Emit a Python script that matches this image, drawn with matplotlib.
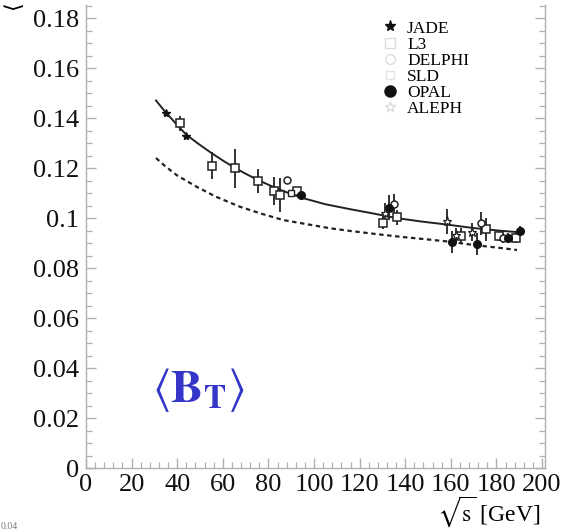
import matplotlib
matplotlib.use("Agg")
import matplotlib.pyplot as plt
from matplotlib.ticker import MultipleLocator
from matplotlib.lines import Line2D

plt.rcParams["font.family"] = ["Liberation Serif", "DejaVu Serif"]
plt.rcParams["mathtext.fontset"] = "stix"

# theory curves
fit_x = [30.7, 35, 40, 44, 50, 55, 60, 65, 70, 75, 80, 85, 90, 95, 105, 116,
         126, 136, 147, 158, 168, 176, 183, 190]
fit_y = [0.147, 0.1422, 0.1372, 0.1333, 0.1292, 0.1260, 0.1230, 0.1202, 0.1177,
         0.1154, 0.1133, 0.1113, 0.1096, 0.1080, 0.1055, 0.1035, 0.1018, 0.1000,
         0.0986, 0.0974, 0.0962, 0.0954, 0.0948, 0.0943]
pert_x = [30.7, 35, 40, 48.5, 57, 67.5, 77, 86.4, 97, 107, 116, 127, 137.7,
          149, 159.6, 170, 180, 189]
pert_y = [0.124, 0.1205, 0.117, 0.1125, 0.1085, 0.1045, 0.1017, 0.0992, 0.0975,
          0.0959, 0.0948, 0.0936, 0.0925, 0.0915, 0.0905, 0.0892, 0.0882, 0.0872]

# experiments
jade_x = [35.0, 44.0]
jade_y = [0.142, 0.133]
jade_e = [0.001, 0.001]

l3_x = [41.4, 55.3, 65.4, 75.4, 82.3, 85.1, 92.4, 130.1, 136.2, 164.5, 175.4, 181.3, 188.5]
l3_y = [0.138, 0.121, 0.120, 0.1148, 0.1108, 0.1092, 0.1108, 0.0981, 0.1003, 0.0930, 0.0955, 0.0928, 0.0921]
l3_e = [0.003, 0.0055, 0.0078, 0.0048, 0.0057, 0.0069, 0.001, 0.0025, 0.003, 0.003, 0.0047, 0.002, 0.002]

delphi_x = [88.0, 135.2, 173.2, 183.0]
delphi_y = [0.1152, 0.1055, 0.0979, 0.0921]
delphi_e = [0.0, 0.004, 0.0047, 0.002]

sld_x = [90.0]
sld_y = [0.1099]
sld_e = [0.0]

opal_x = [94.3, 133.0, 160.4, 171.3, 185.2, 190.4]
opal_y = [0.1092, 0.1041, 0.0905, 0.0896, 0.0921, 0.0948]
opal_e = [0.001, 0.005, 0.0043, 0.0045, 0.002, 0.002]

aleph_x = [131.1, 158.2, 162.3, 169.2]
aleph_y = [0.1021, 0.0987, 0.0932, 0.0945]
aleph_e = [0.004, 0.005, 0.003, 0.0035]

legend_names = ["JADE", "L3", "DELPHI", "SLD", "OPAL", "ALEPH"]

fig = plt.figure(figsize=(5.61, 5.32), dpi=100)
ax = fig.add_axes([0.1533, 0.1203, 0.8182, 0.8703])

ax.plot(fit_x, fit_y, color="#222", lw=1.4, zorder=2)
ax.plot(pert_x, pert_y, color="#222", lw=1.6, ls=(0, (2.0, 1.6)), zorder=2)

ebar = dict(ecolor="#222", elinewidth=1.3, capsize=0, ls="none", zorder=3)
ax.errorbar(jade_x, jade_y, yerr=jade_e, fmt="*", ms=6, mfc="#111", mec="#111", **ebar)
ax.errorbar(l3_x, l3_y, yerr=l3_e, fmt="s", ms=5.5, mfc="white", mec="#222", mew=1.1, **ebar)
ax.errorbar(delphi_x, delphi_y, yerr=delphi_e, fmt="o", ms=5, mfc="white", mec="#222", mew=1.1, **ebar)
ax.errorbar(sld_x, sld_y, yerr=sld_e, fmt="s", ms=4, mfc="white", mec="#222", mew=1.0, **ebar)
ax.errorbar(opal_x, opal_y, yerr=opal_e, fmt="o", ms=5.5, mfc="#111", mec="#111", **ebar)
ax.errorbar(aleph_x, aleph_y, yerr=aleph_e, fmt="*", ms=6.5, mfc="white", mec="#222", mew=0.9, **ebar)

# legend (open symbols come out very faint in the original)
handles = [
    Line2D([], [], ls="none", marker="*", ms=8, mfc="#111", mec="#111"),
    Line2D([], [], ls="none", marker="s", ms=7, mfc="white", mec="#ddd"),
    Line2D([], [], ls="none", marker="o", ms=7, mfc="white", mec="#ddd"),
    Line2D([], [], ls="none", marker="s", ms=6, mfc="white", mec="#e4e4e4"),
    Line2D([], [], ls="none", marker="o", ms=8, mfc="#111", mec="#111"),
    Line2D([], [], ls="none", marker="*", ms=8, mfc="white", mec="#ddd"),
]
ax.legend(handles, legend_names, loc="upper left", bbox_to_anchor=(0.62, 0.993),
          frameon=False, fontsize=12.5, handlelength=0.8, handletextpad=0.6,
          labelspacing=0.0, borderpad=0.2)

ax.set_xlim(0, 201.3)
ax.set_ylim(0, 0.1852)
ax.xaxis.set_major_locator(MultipleLocator(20))
ax.xaxis.set_minor_locator(MultipleLocator(4))
ax.yaxis.set_major_locator(MultipleLocator(0.02))
ax.yaxis.set_minor_locator(MultipleLocator(0.005))
ax.set_yticks([0, 0.02, 0.04, 0.06, 0.08, 0.1, 0.12, 0.14, 0.16, 0.18])
ax.set_yticklabels(["0", "0.02", "0.04", "0.06", "0.08", "0.1", "0.12", "0.14", "0.16", "0.18"])

for s in ("left", "bottom", "right"):
    ax.spines[s].set_color("#b0b0b0")
    ax.spines[s].set_linewidth(1.0)
ax.spines["top"].set_visible(False)
ax.tick_params(which="both", direction="in", colors="#b0b0b0", labelcolor="#111",
               labelsize=19, right=True, top=False)
ax.tick_params(which="major", length=7, width=1.0)
ax.tick_params(which="minor", length=4, width=0.9)
ax.tick_params(axis="y", pad=5)
ax.tick_params(axis="x", pad=4)

ax.text(29, 0.0265, r"$\langle\mathbf{B}_{\mathbf{T}}\rangle$", color="#3535c8",
        fontsize=34, ha="left", va="baseline")

fig.text(0.963, 0.006, r"$\sqrt{\mathrm{s}}$ [GeV]", ha="right", va="bottom", fontsize=17)
fig.text(0.008, 0.998, "\u27e8", rotation=90, ha="left", va="top", fontsize=16)
fig.text(0.002, 0.002, "0.04", ha="left", va="bottom", fontsize=7, color="#777")

fig.savefig("out.png", dpi=100)
